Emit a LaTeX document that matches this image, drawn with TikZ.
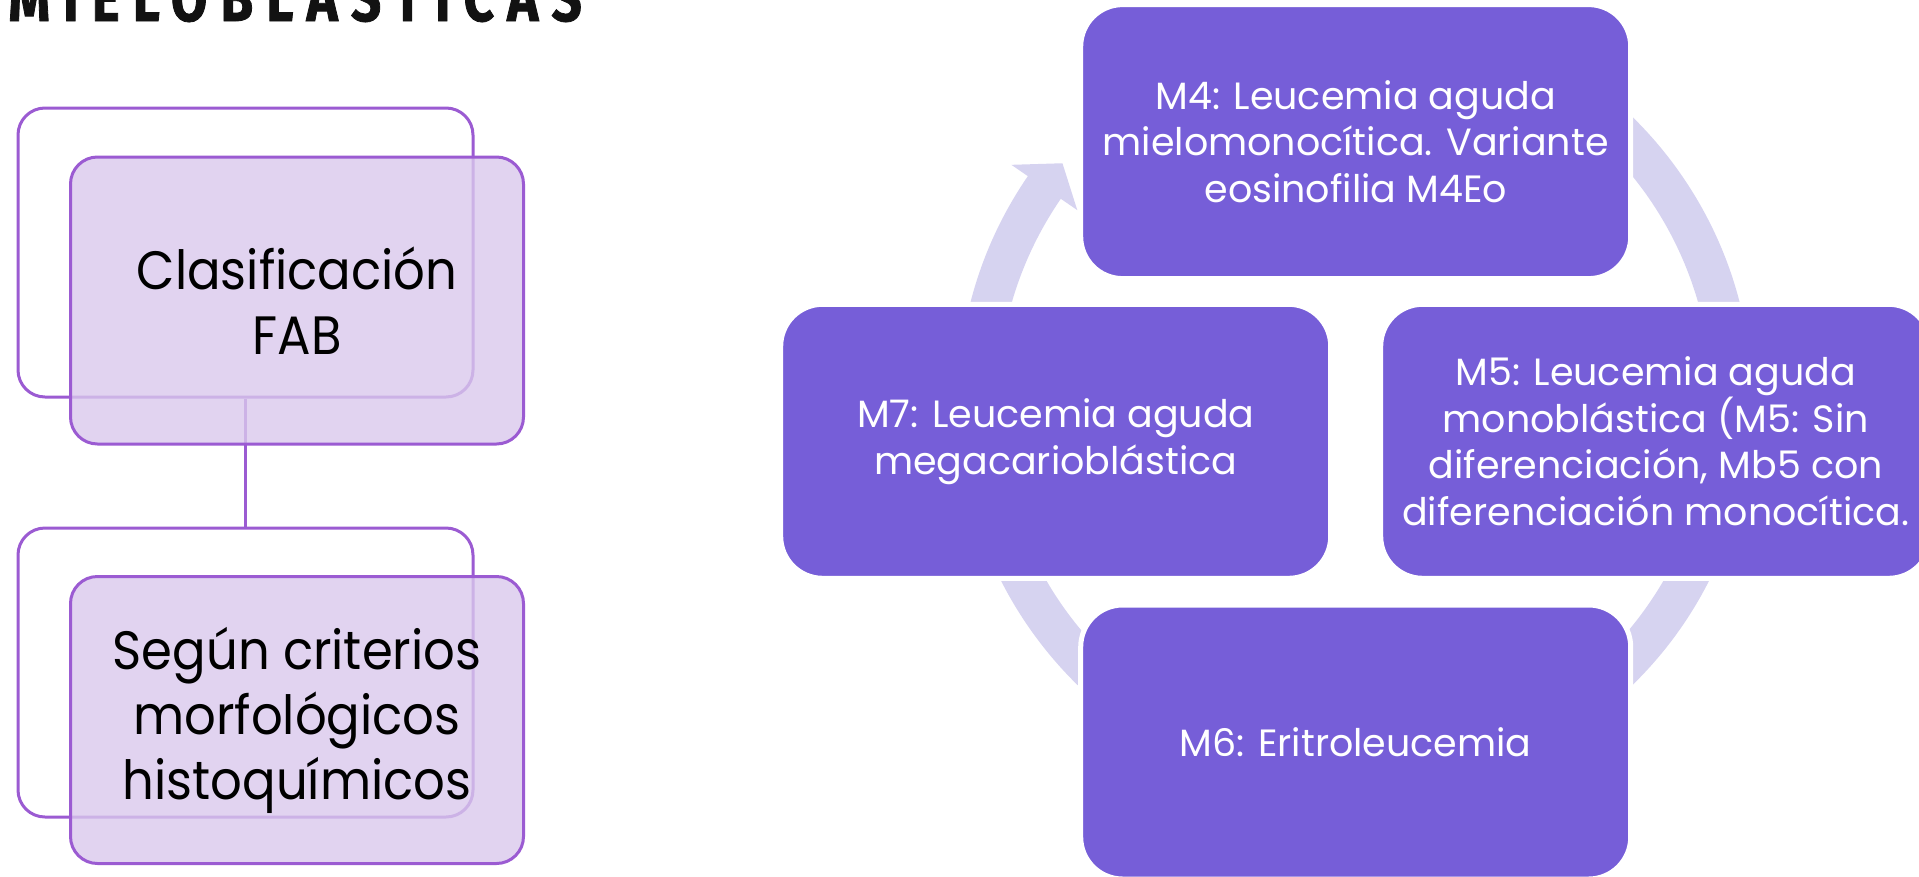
\documentclass[tikz,border=0pt]{standalone}
\usepackage{fontspec}
\setmainfont{Poppins}
\newfontfamily\cardfont[FakeStretch=0.92]{Poppins}
\newfontfamily\titlefont[FakeStretch=0.8,LetterSpace=20,FakeBold=1.2]{Fira Sans}
\usetikzlibrary{calc}

\definecolor{cyclebox}{HTML}{765ED8}
\definecolor{cyclering}{HTML}{D6D3F0}
\definecolor{cardline}{HTML}{9B5BD2}
\definecolor{cardfill}{HTML}{D9C8EC}

\tikzset{
  backcard/.style={draw=cardline, line width=3pt, rounded corners=27pt,
    minimum width=455pt, minimum height=289pt, inner sep=0pt},
  frontcard/.style={draw=cardline, line width=3pt, rounded corners=27pt,
    fill=cardfill, fill opacity=0.8, text opacity=1,
    minimum width=453pt, minimum height=287pt, inner sep=0pt, align=center,
    font=\cardfont\fontsize{54}{65}\selectfont},
  link/.style={draw=cardline, line width=3pt},
  stagebox/.style={draw=white, line width=5pt, fill=cyclebox, rounded corners=42pt,
    minimum width=550pt, minimum height=274pt, inner sep=0pt, align=center,
    text=white, font=\fontsize{38}{46.8}\selectfont},
}

\begin{document}
\begin{tikzpicture}[x=1pt,y=-1pt]
\useasboundingbox (0,0) rectangle (1919,876);
\clip (0,0) rectangle (1919,876);

% heading, only its lower part lies inside the page
\node[anchor=base east, inner sep=0pt, font=\titlefont\bfseries\fontsize{66}{66}\selectfont, text=black!93]
  (title) at (582,21) {MIELOBLÁSTICAS};

% FAB classification cards
\node[backcard] (back1) at (245.5,252.5) {};
\node[backcard] (back2) at (245.5,672.5) {};
\draw[link] (back1.south) -- (back2.north);
\node[frontcard] (card1) at (297,300.5) {Clasificación\\FAB};
\node[frontcard] (card2) at (297,720) {Según criterios\\morfológicos\\histoquímicos};

% continuous cycle arrow
\coordinate (c) at (1355,401);
\fill[cyclering] ($(c)+(235:397)$) arc[start angle=235,end angle=574.5,radius=397]
  -- ($(c)+(574.5:417)$) -- ($(c)+(579.1:377)$) -- ($(c)+(574.5:337)$)
  -- ($(c)+(574.5:357)$) arc[start angle=574.5,end angle=235,radius=357] -- cycle;

% stages of the cycle
\node[stagebox] (m4) at (1355.7,141.6) {M4: Leucemia aguda\\mielomonocítica. Variante\\eosinofilia M4Eo};
\node[stagebox] (m7) at (1055.7,441.3) {M7: Leucemia aguda\\megacarioblástica};
\node[stagebox] (m5) at (1655.7,441.3) {M5: Leucemia aguda\\monoblástica (M5: Sin\\diferenciación, Mb5 con\\diferenciación monocítica.};
\node[stagebox] (m6) at (1355.7,742) {M6: Eritroleucemia};
\end{tikzpicture}
\end{document}
